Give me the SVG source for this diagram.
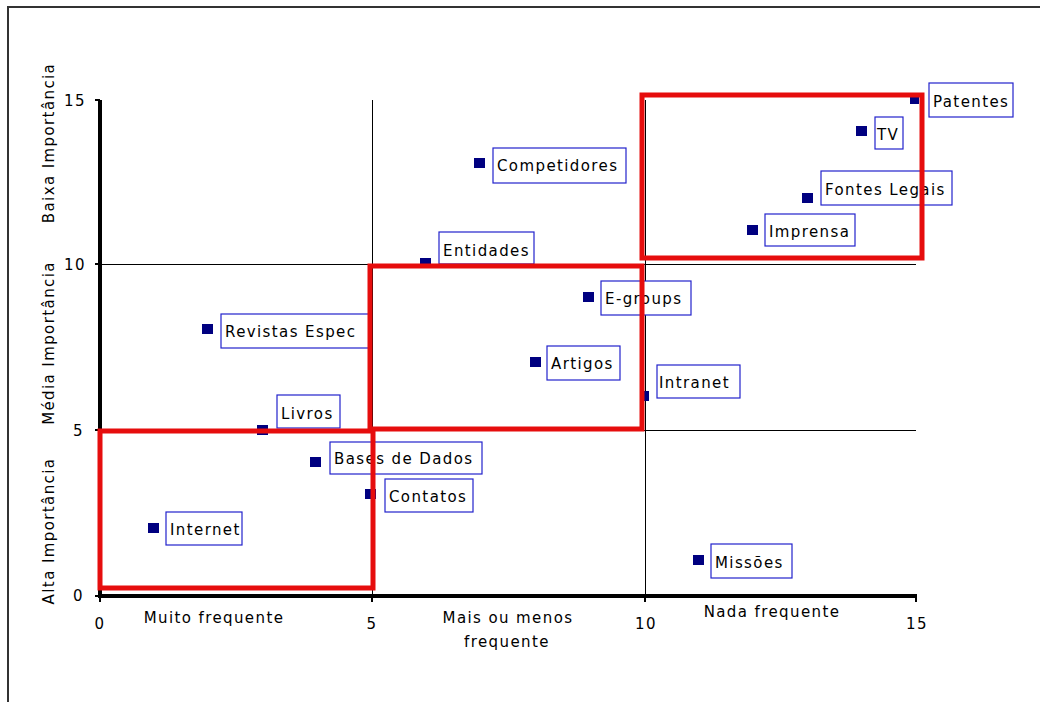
<svg xmlns="http://www.w3.org/2000/svg" width="1040" height="702" viewBox="0 0 1040 702">
<style>
text{font-family:"DejaVu Sans","Liberation Sans",sans-serif;font-size:15px;letter-spacing:1.4px;fill:#000}
.grid{stroke:#000;stroke-width:1;fill:none}
.axis{stroke:#000;stroke-width:4;fill:none}
.tick{stroke:#000;stroke-width:2}
.red{stroke:#e60d0d;stroke-width:5;fill:none}
.pt{fill:#000080}
.lbl{fill:#fff;stroke:#2222cc;stroke-width:1.2}
</style>
<rect x="0" y="0" width="1040" height="702" fill="#fff"/>
<path d="M8,705 V7 H1045" fill="none" stroke="#333" stroke-width="2"/>
<g id="grid">
<line class="grid" x1="372.5" y1="100" x2="372.5" y2="596"/>
<line class="grid" x1="645.5" y1="100" x2="645.5" y2="596"/>
<line class="grid" x1="100" y1="264.5" x2="916" y2="264.5"/>
<line class="grid" x1="100" y1="430.5" x2="916" y2="430.5"/>
</g>
<g id="axes">
<line class="axis" x1="100" y1="100" x2="100" y2="597"/>
<line class="axis" x1="98" y1="596" x2="917" y2="596"/>
<line class="tick" x1="95" y1="100" x2="100" y2="100"/>
<line class="tick" x1="95" y1="264" x2="100" y2="264"/>
<line class="tick" x1="95" y1="430" x2="100" y2="430"/>
<line class="tick" x1="95" y1="596" x2="100" y2="596"/>
<line class="tick" x1="100" y1="596" x2="100" y2="602"/>
<line class="tick" x1="372" y1="596" x2="372" y2="602"/>
<line class="tick" x1="645" y1="596" x2="645" y2="602"/>
<line class="tick" x1="916" y1="596" x2="916" y2="602"/>
<text x="86" y="106" text-anchor="end">15</text>
<text x="86" y="270" text-anchor="end">10</text>
<text x="84" y="436" text-anchor="end">5</text>
<text x="84" y="601" text-anchor="end">0</text>
<text x="100" y="629" text-anchor="middle">0</text>
<text x="372" y="629" text-anchor="middle">5</text>
<text x="646" y="629" text-anchor="middle">10</text>
<text x="917" y="629" text-anchor="middle">15</text>
<text x="214" y="623" text-anchor="middle">Muito frequente</text>
<text x="508" y="623" text-anchor="middle">Mais ou menos</text>
<text x="507" y="647" text-anchor="middle">frequente</text>
<text x="772" y="617" text-anchor="middle">Nada frequente</text>
<text transform="translate(54,531) rotate(-90)" text-anchor="middle">Alta Importância</text>
<text transform="translate(54,343) rotate(-90)" text-anchor="middle">Média Importância</text>
<text transform="translate(54,143) rotate(-90)" text-anchor="middle">Baixa Importância</text>
</g>
<g id="internet"><rect class="pt" x="148" y="523" width="11" height="10"/><rect class="lbl" x="166" y="512" width="76" height="33"/><text x="170" y="535">Internet</text></g>
<g id="livros"><rect class="pt" x="257" y="425" width="11" height="10"/><rect class="lbl" x="277" y="395" width="63" height="33"/><text x="281" y="419">Livros</text></g>
<g id="revistas"><rect class="pt" x="202" y="324" width="11" height="10"/><rect class="lbl" x="221" y="314" width="150" height="34"/><text x="225" y="337">Revistas Espec</text></g>
<g id="bases"><rect class="pt" x="310" y="457" width="11" height="10"/><rect class="lbl" x="330" y="442" width="152" height="32"/><text x="334" y="464">Bases de Dados</text></g>
<g id="contatos"><rect class="pt" x="365" y="489" width="11" height="10"/><rect class="lbl" x="385" y="479" width="88" height="33"/><text x="389" y="502">Contatos</text></g>
<g id="entidades"><rect class="pt" x="420" y="258" width="11" height="10"/><rect class="lbl" x="439" y="232" width="95" height="32"/><text x="443" y="256">Entidades</text></g>
<g id="competidores"><rect class="pt" x="474" y="158" width="11" height="10"/><rect class="lbl" x="493" y="148" width="133" height="35"/><text x="497" y="171">Competidores</text></g>
<g id="egroups"><rect class="pt" x="583" y="292" width="11" height="10"/><rect class="lbl" x="601" y="281" width="90" height="34"/><text x="605" y="304">E-groups</text></g>
<g id="artigos"><rect class="pt" x="530" y="357" width="11" height="10"/><rect class="lbl" x="547" y="346" width="73" height="34"/><text x="551" y="369">Artigos</text></g>
<g id="intranet"><rect class="pt" x="640" y="391" width="9" height="10"/><rect class="lbl" x="657" y="365" width="83" height="33"/><text x="659" y="388">Intranet</text></g>
<g id="missoes"><rect class="pt" x="693" y="555" width="11" height="10"/><rect class="lbl" x="711" y="544" width="81" height="34"/><text x="715" y="568">Missões</text></g>
<g id="imprensa"><rect class="pt" x="747" y="225" width="11" height="10"/><rect class="lbl" x="765" y="214" width="90" height="32"/><text x="769" y="237">Imprensa</text></g>
<g id="fontes"><rect class="pt" x="802" y="193" width="11" height="10"/><rect class="lbl" x="821" y="171" width="131" height="34"/><text x="825" y="195">Fontes Legais</text></g>
<g id="tv"><rect class="pt" x="856" y="126" width="11" height="10"/><rect class="lbl" x="875" y="117" width="28" height="32"/><text x="877" y="140">TV</text></g>
<g id="patentes"><rect class="pt" x="910" y="96" width="9" height="8"/><rect class="lbl" x="929" y="83" width="84" height="34"/><text x="933" y="107">Patentes</text></g>
<g id="regions">
<rect class="red" x="100" y="431" width="273" height="157"/>
<rect class="red" x="370" y="266" width="272" height="163"/>
<rect class="red" x="642" y="95" width="280" height="163"/>
</g>
</svg>
